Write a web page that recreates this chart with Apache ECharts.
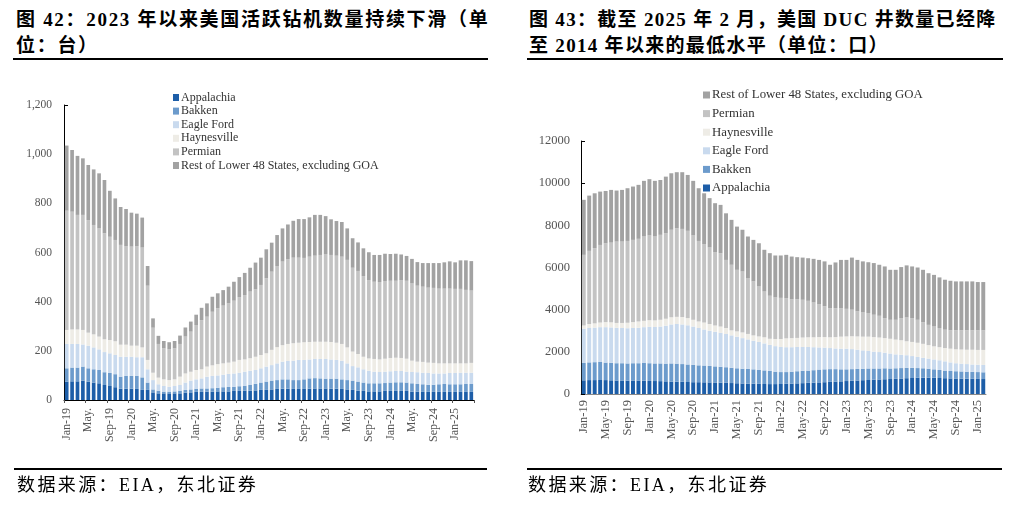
<!DOCTYPE html>
<html><head><meta charset="utf-8">
<script src="https://cdn.jsdelivr.net/npm/echarts/dist/echarts.min.js"></script>
<style>
body{margin:0;width:1012px;height:511px;background:#fff;position:relative;overflow:hidden;font-family:"Liberation Serif","Noto Sans CJK SC",serif;}
.t{position:absolute;white-space:nowrap;font-weight:bold;font-size:19px;line-height:24px;color:#000;}
.rule{position:absolute;height:1.6px;background:#000;}
.src{position:absolute;white-space:nowrap;font-size:18px;line-height:20px;letter-spacing:2.4px;color:#000;}
#c1{position:absolute;left:0;top:60px;width:500px;height:410px;}
#c2{position:absolute;left:512px;top:60px;width:500px;height:410px;}
</style></head>
<body>
<div class="t" style="left:16px;top:8px;letter-spacing:1.7px">图 42：2023 年以来美国活跃钻机数量持续下滑（单</div>
<div class="t" style="left:16px;top:34px;letter-spacing:1.7px">位：台）</div>
<div class="rule" style="left:13px;top:58px;width:475px"></div>
<div class="t" style="left:529px;top:8px;letter-spacing:1.3px">图 43：截至 2025 年 2 月，美国 DUC 井数量已经降</div>
<div class="t" style="left:529px;top:34px;letter-spacing:1.3px">至 2014 年以来的最低水平（单位：口）</div>
<div class="rule" style="left:527px;top:58px;width:476px"></div>
<div id="c1"></div>
<div id="c2"></div>
<div class="rule" style="left:14px;top:468px;width:473px"></div>
<div class="src" style="left:17px;top:475px">数据来源：EIA，东北证券</div>
<div class="rule" style="left:527px;top:468px;width:475px"></div>
<div class="src" style="left:528px;top:475px">数据来源：EIA，东北证券</div>
<script>
const months = ["Jan-19","Feb-19","Mar-19","Apr-19","May-19","Jun-19","Jul-19","Aug-19","Sep-19","Oct-19","Nov-19","Dec-19",
"Jan-20","Feb-20","Mar-20","Apr-20","May-20","Jun-20","Jul-20","Aug-20","Sep-20","Oct-20","Nov-20","Dec-20",
"Jan-21","Feb-21","Mar-21","Apr-21","May-21","Jun-21","Jul-21","Aug-21","Sep-21","Oct-21","Nov-21","Dec-21",
"Jan-22","Feb-22","Mar-22","Apr-22","May-22","Jun-22","Jul-22","Aug-22","Sep-22","Oct-22","Nov-22","Dec-22",
"Jan-23","Feb-23","Mar-23","Apr-23","May-23","Jun-23","Jul-23","Aug-23","Sep-23","Oct-23","Nov-23","Dec-23",
"Jan-24","Feb-24","Mar-24","Apr-24","May-24","Jun-24","Jul-24","Aug-24","Sep-24","Oct-24","Nov-24","Dec-24",
"Jan-25","Feb-25","Mar-25","Apr-25"];
const rigMonths = months;                 // Jan-19 .. Apr-25 (76)
const ducMonths = months.slice(0, 74);    // Jan-19 .. Feb-25 (74)
const seriesNames = ["Appalachia","Bakken","Eagle Ford","Haynesville","Permian","Rest of Lower 48 States, excluding GOA"];

// Chart 42: active rigs
const rigApp = [75,76,76,79,75,71,68,61,57,52,46,46,46,45,41,41,31,27,27,27,27,27,30,31,33,33,34,34,35,35,35,37,37,38,38,39,41,41,43,45,46,46,45,45,45,46,47,47,47,46,46,45,43,41,38,37,35,35,35,37,37,37,37,37,34,34,33,33,33,33,33,33,33,33,33,33];
const rigBak = [54,56,56,57,54,54,54,52,53,53,49,52,52,53,51,30,12,11,7,7,8,11,11,12,13,14,13,14,15,17,18,17,19,20,23,27,30,34,36,36,38,38,36,36,39,42,42,41,40,41,41,39,38,38,37,34,33,33,33,32,34,35,35,34,34,31,31,29,29,31,32,31,31,31,32,32];
const rigEF  = [99,96,96,90,92,89,84,82,80,78,81,78,78,76,82,54,38,26,23,20,22,23,30,36,38,41,48,50,50,51,53,54,55,57,58,56,58,61,63,68,72,75,79,82,79,77,78,79,80,78,76,76,68,59,58,54,51,47,46,46,46,46,46,44,46,48,47,48,46,44,43,46,46,47,46,46];
const rigHV  = [57,59,59,59,53,53,52,52,54,56,49,49,45,47,40,38,30,27,27,27,27,34,37,36,38,37,41,43,46,46,46,48,52,50,51,54,54,54,62,66,67,69,71,70,72,71,70,70,70,71,70,68,65,59,54,51,50,52,51,53,54,54,53,53,46,43,44,42,43,41,41,39,39,38,38,40];
const rigPerm= [485,479,466,468,458,445,440,431,420,412,406,401,403,405,406,302,183,137,126,125,126,133,150,163,183,200,203,218,227,235,241,248,255,262,271,274,285,305,318,330,340,345,348,346,343,347,350,353,357,354,354,355,356,341,338,328,319,314,315,316,314,313,317,317,314,309,306,305,305,304,304,304,303,303,299,294];
const rigRest= [265,251,240,230,224,226,224,217,187,169,154,151,138,132,122,80,38,33,30,29,30,34,37,41,42,50,54,61,61,63,68,77,82,90,97,109,111,118,118,126,135,141,150,157,158,160,166,163,154,145,141,141,128,120,116,113,113,109,110,111,109,110,104,101,100,96,96,100,101,104,107,111,108,116,120,120];

// Chart 43: DUC wells
const ducApp = [650,660,660,665,660,650,640,640,635,640,640,630,620,615,610,600,590,585,580,570,560,560,555,550,545,540,530,520,510,500,495,490,480,475,470,470,475,485,495,505,515,530,540,550,560,575,590,600,615,630,640,655,665,680,690,700,710,720,735,750,760,770,775,775,770,760,750,740,735,730,725,720,715,710];
const ducBak = [820,840,850,855,830,830,820,820,815,820,820,840,840,835,840,840,860,855,840,830,820,800,795,780,765,750,740,720,710,700,695,680,660,645,630,590,565,555,565,575,585,580,590,610,610,605,590,570,555,550,550,545,545,530,520,520,500,500,495,490,480,460,445,425,400,380,360,350,345,340,335,330,325,320];
const ducEF  = [1630,1630,1640,1650,1680,1680,1680,1670,1670,1670,1680,1700,1730,1730,1750,1800,1850,1880,1880,1860,1820,1770,1710,1670,1640,1610,1580,1540,1500,1450,1400,1360,1330,1280,1230,1210,1190,1180,1160,1150,1130,1120,1090,1050,1030,1000,980,980,980,950,910,870,830,800,780,740,710,660,630,600,560,530,500,480,470,460,440,410,380,370,360,350,350,350];
const ducHV  = [150,190,200,220,240,240,230,240,260,280,300,300,310,310,320,330,340,340,350,340,320,310,330,320,300,300,280,240,250,270,260,250,260,290,290,340,380,420,430,430,450,460,470,490,500,510,540,570,580,610,630,650,680,690,690,690,700,700,690,660,670,670,660,640,620,620,630,650,660,670,680,700,700,710];
const ducPerm= [3350,3470,3570,3680,3740,3780,3860,3860,3880,3900,3920,4000,4020,3980,4030,4060,4150,4200,4180,4140,4000,3820,3720,3630,3480,3480,3230,3110,2920,2890,2650,2560,2370,2170,2040,1970,1950,1910,1850,1840,1790,1730,1650,1550,1460,1380,1370,1350,1310,1260,1190,1150,1120,1060,1030,950,900,940,1050,1130,1130,1090,1020,960,940,910,870,870,900,910,920,920,930,930];
const ducRest= [2610,2620,2600,2530,2480,2500,2420,2450,2500,2530,2560,2640,2670,2640,2600,2680,2680,2660,2690,2650,2590,2500,2410,2340,2320,2290,2210,2130,2050,1980,1970,1970,2050,1980,2020,1990,2010,2050,2020,1990,2000,2020,2070,2110,2130,2060,2170,2290,2320,2470,2440,2420,2410,2450,2420,2450,2370,2370,2420,2470,2450,2480,2490,2450,2450,2400,2370,2350,2320,2320,2320,2320,2290,2290];

const colors = ["#1d5ea8","#6c9bcc","#c9daee","#eeece6","#c3c3c3","#a2a2a2"];
const FONT = "Liberation Serif";

function makeSeries(arrs, bw){
  return arrs.map((d,k)=>({
    name: seriesNames[k], type:'bar', stack:'s', data:d, barWidth:bw,
    itemStyle:{color:colors[k]}, emphasis:{disabled:true}
  }));
}

const c1 = echarts.init(document.getElementById('c1'), null, {renderer:'canvas'});
c1.setOption({
  animation:false,
  grid:{left:64, right:26, top:45, bottom:70, containLabel:false, outerBoundsMode:'none'},
  legend:{
    orient:'vertical', left:168, top:26, itemWidth:6, itemHeight:7, itemGap:0.6, icon:'rect',
    data:seriesNames, selectedMode:false,
    textStyle:{fontFamily:FONT, fontSize:12, lineHeight:13, color:'#333', padding:[0,0,0,-3]}
  },
  xAxis:{
    type:'category', data:rigMonths,
    axisLine:{lineStyle:{color:'#000', width:1}},
    axisTick:{show:true, interval:3, length:3, lineStyle:{color:'#555'}},
    axisLabel:{interval:3, rotate:90, margin:8, fontFamily:FONT, fontSize:12, color:'#555',
      formatter:v=> v.startsWith('May') ? 'May.' : v}
  },
  yAxis:{
    type:'value', min:0, max:1200, interval:200,
    axisLine:{show:true, lineStyle:{color:'#000', width:1}},
    axisTick:{show:true, inside:true, length:4, lineStyle:{color:'#000'}},
    splitLine:{show:false},
    axisLabel:{margin:12, fontFamily:FONT, fontSize:11.5, color:'#555', formatter:v=>v.toLocaleString('en-US')}
  },
  series: makeSeries([rigApp,rigBak,rigEF,rigHV,rigPerm,rigRest], '68%')
});

const c2 = echarts.init(document.getElementById('c2'), null, {renderer:'canvas'});
c2.setOption({
  animation:false,
  grid:{left:69, right:26, top:81, bottom:76, containLabel:false, outerBoundsMode:'none'},
  legend:{
    orient:'vertical', left:186, top:23, itemWidth:7, itemHeight:7, itemGap:4.6, icon:'rect',
    data:seriesNames.slice().reverse(), selectedMode:false,
    textStyle:{fontFamily:FONT, fontSize:12.8, lineHeight:14, color:'#333', padding:[0,0,0,-3]}
  },
  xAxis:{
    type:'category', data:ducMonths,
    axisLine:{lineStyle:{color:'#888', width:1}},
    axisTick:{show:false},
    axisLabel:{interval:3, rotate:90, margin:6, fontFamily:FONT, fontSize:12.5, color:'#555'}
  },
  yAxis:{
    type:'value', min:0, max:12000, interval:2000,
    axisLine:{show:true, lineStyle:{color:'#000', width:1}},
    axisTick:{show:true, inside:true, length:4, lineStyle:{color:'#000'}},
    splitLine:{show:false},
    axisLabel:{margin:11, fontFamily:FONT, fontSize:12.5, color:'#555', formatter:v=>String(v)}
  },
  series: makeSeries([ducApp,ducBak,ducEF,ducHV,ducPerm,ducRest], '72%')
});
</script>
</body></html>
